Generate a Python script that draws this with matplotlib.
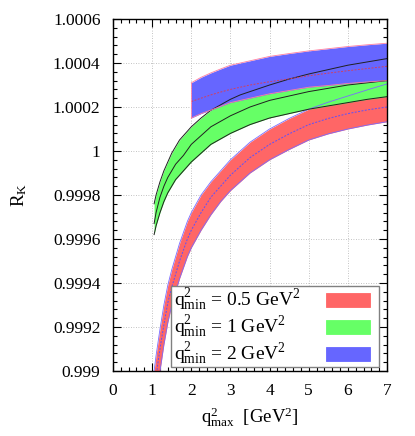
import matplotlib
matplotlib.use("Agg")
import matplotlib.pyplot as plt
import numpy as np
from matplotlib.patches import Rectangle

plt.rcParams["font.family"] = ["Liberation Serif", "DejaVu Serif"]
plt.rcParams["mathtext.fontset"] = "custom"
plt.rcParams["mathtext.rm"] = "Liberation Serif"
plt.rcParams["mathtext.it"] = "Liberation Serif:italic"

# q^2_min = 0.5 GeV^2 band
q_red = [1.0, 1.05, 1.1, 1.15, 1.2, 1.3, 1.4, 1.5, 1.6, 1.7, 1.8, 1.9, 2.0,
         2.25, 2.5, 2.75, 3.0, 3.25, 3.5, 3.75, 4.0, 4.5, 5.0, 5.5, 6.0, 6.5, 7.0]
red_hi = [0.99894, 0.99900, 0.99907, 0.99913, 0.99919, 0.99930, 0.99939, 0.99946,
          0.99952, 0.99958, 0.99963, 0.99968, 0.99972, 0.99980, 0.99986, 0.99991,
          0.99996, 1.00000, 1.00004, 1.00007, 1.00010, 1.000148, 1.00019, 1.000222,
          1.00025, 1.000278, 1.000305]
red_mid = [0.99882, 0.99890, 0.99897, 0.99904, 0.99910, 0.99921, 0.99931, 0.99938,
           0.99944, 0.99950, 0.99955, 0.99960, 0.99964, 0.99972, 0.99979, 0.99984,
           0.99989, 0.99993, 0.99997, 1.00000, 1.00003, 1.000078, 1.00012, 1.000148,
           1.00017, 1.000187, 1.00020]
red_lo = [0.99860, 0.99871, 0.99881, 0.99891, 0.99900, 0.99912, 0.99922, 0.99930,
          0.99936, 0.99942, 0.99947, 0.99952, 0.99956, 0.99964, 0.99971, 0.99977,
          0.99982, 0.99986, 0.99990, 0.99993, 0.99996, 1.000007, 1.00005, 1.000078,
          1.00010, 1.000118, 1.000133]

# q^2_min = 1 GeV^2 band
q_grn = [1.05, 1.1, 1.2, 1.3, 1.4, 1.5, 1.6, 1.7, 1.8, 1.9, 2.0, 2.25, 2.5,
         2.75, 3.0, 3.25, 3.5, 3.75, 4.0, 4.5, 5.0, 5.5, 6.0, 6.5, 7.0]
grn_hi = [0.99976, 0.99980, 0.99986, 0.99991, 0.99995, 0.99999, 1.00002, 1.00005,
          1.00007, 1.00009, 1.00011, 1.00015, 1.000185, 1.00021, 1.000235, 1.000255,
          1.00027, 1.000285, 1.00030, 1.000327, 1.00035, 1.00037, 1.00039, 1.000405,
          1.00042]
grn_mid = [0.99967, 0.99972, 0.99979, 0.99984, 0.99988, 0.99991, 0.99994, 0.99996,
           0.99998, 1.000005, 1.00003, 1.00007, 1.00011, 1.000135, 1.00016, 1.00018,
           1.00020, 1.000215, 1.00023, 1.00025, 1.00027, 1.000285, 1.00030, 1.00031,
           1.00032]
grn_lo = [0.99962, 0.99966, 0.99972, 0.99977, 0.99981, 0.99984, 0.99987, 0.99989,
          0.99991, 0.99993, 0.99995, 0.99999, 1.00003, 1.000055, 1.00008, 1.00010,
          1.00012, 1.000135, 1.00015, 1.00017, 1.00019, 1.000205, 1.00022, 1.000235,
          1.000247]

# q^2_min = 2 GeV^2 band
q_blu = [2.0, 2.25, 2.5, 2.75, 3.0, 3.5, 4.0, 4.5, 5.0, 5.5, 6.0, 6.5, 7.0]
blu_hi = [1.00031, 1.000335, 1.000355, 1.000373, 1.00039, 1.00041, 1.00043,
          1.000443, 1.000455, 1.000465, 1.000475, 1.000483, 1.00049]
blu_mid = [1.000225, 1.00024, 1.000255, 1.000268, 1.00028, 1.00030, 1.000315,
           1.000328, 1.000342, 1.000354, 1.000365, 1.000375, 1.000385]
blu_lo = [1.00015, 1.00017, 1.000186, 1.000203, 1.00022, 1.00024, 1.00026,
          1.000275, 1.00029, 1.000298, 1.000307, 1.000314, 1.00032]

labels = [r"$\mathrm{q}^2_{\mathrm{min}}$ = 0.5 GeV$^2$",
          r"$\mathrm{q}^2_{\mathrm{min}}$ = 1 GeV$^2$",
          r"$\mathrm{q}^2_{\mathrm{min}}$ = 2 GeV$^2$"]

x_ticks = [0, 1, 2, 3, 4, 5, 6, 7]
y_ticks = [0.999, 0.9992, 0.9994, 0.9996, 0.9998, 1.0, 1.0002, 1.0004, 1.0006]
y_tick_labels = ["0.999", "0.9992", "0.9994", "0.9996", "0.9998", "1",
                 "1.0002", "1.0004", "1.0006"]

fill_cols = ["#ff6666", "#66ff66", "#6666ff"]

fig = plt.figure(figsize=(4.15, 4.36), dpi=100)
ax = fig.add_axes([0.2723, 0.1491, 0.6602, 0.8073])

# fills first
ax.fill_between(q_red, red_lo, red_hi, color=fill_cols[0], lw=0, zorder=2)
ax.fill_between(q_grn, grn_lo, grn_hi, color=fill_cols[1], lw=0, zorder=3)
ax.fill_between(q_blu, blu_lo, blu_hi, color=fill_cols[2], lw=0, zorder=4)

# band edges and central lines on top
for y in (red_hi, red_lo):
    ax.plot(q_red, y, color="#7a6cff", lw=0.6, zorder=5)
ax.plot(q_red, red_mid, color="#5a50ff", lw=0.7, ls=(0, (2, 1.5)), zorder=5)
for y in (grn_hi, grn_lo, grn_mid):
    ax.plot(q_grn, y, color="#202020", lw=0.7, zorder=6)
for y in (blu_hi, blu_lo):
    ax.plot(q_blu, y, color="#ff7fa0", lw=0.6, zorder=7)
ax.plot(q_blu, blu_mid, color="#d04060", lw=0.7, ls=(0, (2, 1.5)), zorder=7)
ax.plot([q_blu[0], q_blu[0]], [blu_lo[0], blu_hi[0]], color="#ff7fa0", lw=0.6, zorder=7)

ax.set_xlim(0, 7)
ax.set_ylim(0.999, 1.0006)
ax.set_xticks(x_ticks)
ax.set_xticklabels([str(v) for v in x_ticks])
ax.set_yticks(y_ticks)
ax.set_yticklabels(y_tick_labels)
ax.set_xticks(np.arange(0, 7.01, 0.2), minor=True)
ax.set_yticks(np.arange(0.999, 1.00061, 0.00004), minor=True)
ax.tick_params(which="both", direction="in", top=True, right=True, width=0.8)
ax.tick_params(which="major", length=6, labelsize=12.5, pad=9)
ax.tick_params(which="minor", length=3)
ax.grid(True, which="major", color="#b0b0b0", lw=0.6, ls=(0, (1, 2)), zorder=1)
for s in ax.spines.values():
    s.set_linewidth(1.0)
    s.set_zorder(10)

ax.set_xlabel(r"$\mathrm{q}^2_{\mathrm{max}}$  [GeV$^2$]", fontsize=13.5, labelpad=4)
ax.set_ylabel(r"R$_\mathrm{K}$", fontsize=13.5, labelpad=17)

# legend box
leg = Rectangle((1.48, 0.999020), 5.31, 0.000366, transform=ax.transData,
                facecolor="white", edgecolor="#808080", lw=1.0, zorder=8)
ax.add_patch(leg)
row_y = [0.999323, 0.999200, 0.999077]
for lab, col, yy in zip(labels, fill_cols, row_y):
    ax.text(1.56, yy, lab, fontsize=14, va="center", ha="left", zorder=9)
    ax.add_patch(Rectangle((5.44, yy - 0.000032), 1.12, 0.000064, facecolor=col,
                           edgecolor=col, lw=0.6, zorder=9))

fig.savefig("out.png", dpi=100)
